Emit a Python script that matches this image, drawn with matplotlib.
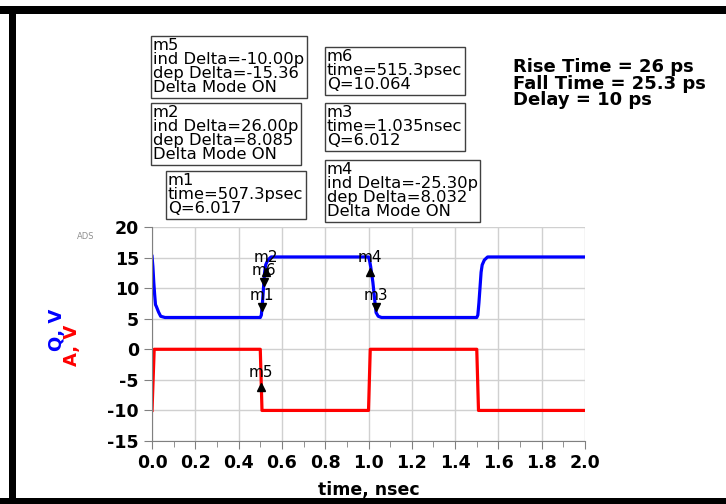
"""ADS transient plot: Q and A vs time with markers"""

from matplotlib import pyplot as plt
from matplotlib.patches import Rectangle
from matplotlib.ticker import MultipleLocator, FormatStrFormatter

plt.rcParams['axes.unicode_minus'] = False

# blue trace Q (V) vs time (nsec)
q_time = [0.0, 0.004, 0.008, 0.012, 0.016, 0.02, 0.03, 0.04, 0.06,
          0.5, 0.505, 0.51, 0.515, 0.52, 0.525, 0.535, 0.55,
          1.0, 1.005, 1.01, 1.02, 1.03, 1.035, 1.045, 1.06,
          1.5, 1.505, 1.51, 1.515, 1.52, 1.525, 1.535, 1.55, 2.0]
q_volt = [15.2, 13.5, 11.0, 9.0, 7.3, 7.0, 6.1, 5.4, 5.2,
          5.2, 5.6, 7.6, 10.1, 12.6, 13.8, 14.6, 15.1,
          15.1, 14.5, 13.5, 11.0, 7.6, 6.0, 5.4, 5.2,
          5.2, 5.6, 7.6, 10.1, 12.6, 13.8, 14.6, 15.1, 15.1]

# red trace A (V) vs time (nsec)
a_time = [0.0, 0.01, 0.5, 0.508, 1.0, 1.008, 1.5, 1.508, 2.0]
a_volt = [-10.0, 0.0, 0.0, -10.0, -10.0, 0.0, 0.0, -10.0, -10.0]

# marker name, time, value, pointing down?
mk_names = ['m1', 'm6', 'm2', 'm3', 'm4', 'm5']
mk_time = [0.507, 0.515, 0.527, 1.035, 1.007, 0.505]
mk_value = [6.0, 10.1, 13.6, 6.0, 13.6, -5.3]
mk_down = [True, True, False, True, False, False]

# marker readout boxes
box_texts = [
    "m5\nind Delta=-10.00p\ndep Delta=-15.36\nDelta Mode ON",
    "m6\ntime=515.3psec\nQ=10.064",
    "m2\nind Delta=26.00p\ndep Delta=8.085\nDelta Mode ON",
    "m3\ntime=1.035nsec\nQ=6.012",
    "m1\ntime=507.3psec\nQ=6.017",
    "m4\nind Delta=-25.30p\ndep Delta=8.032\nDelta Mode ON",
]
box_xy = [(0.2107, 0.9246), (0.4504, 0.9028), (0.2107, 0.7917),
          (0.4504, 0.7917), (0.2314, 0.6567), (0.4504, 0.6786)]

summary = "Rise Time = 26 ps\nFall Time = 25.3 ps\nDelay = 10 ps"

fig = plt.figure(figsize=(7.26, 5.04), dpi=100)
ax = fig.add_axes([0.2094, 0.125, 0.5964, 0.4246])

ax.plot(q_time, q_volt, color='#0000ff', lw=2.3, solid_joinstyle='round')
ax.plot(a_time, a_volt, color='#ff0000', lw=2.3)

for name, t, v, down in zip(mk_names, mk_time, mk_value, mk_down):
    if down:
        ax.plot(t, v + 0.9, marker='v', color='black', ms=6)
        ax.text(t, v + 1.6, name, ha='center', va='bottom', fontsize=11)
    else:
        ax.plot(t, v - 0.9, marker='^', color='black', ms=6)
        ax.text(t, v + 0.2, name, ha='center', va='bottom', fontsize=11)

ax.set_xlim(0, 2.0)
ax.set_ylim(-15, 20)
ax.xaxis.set_major_locator(MultipleLocator(0.2))
ax.xaxis.set_minor_locator(MultipleLocator(0.1))
ax.xaxis.set_major_formatter(FormatStrFormatter('%.1f'))
ax.yaxis.set_major_locator(MultipleLocator(5))
ax.grid(True, which='major', color='#d0d0d0', lw=1)
ax.set_axisbelow(True)
for side in ['top', 'right']:
    ax.spines[side].set_visible(False)
for side in ['left', 'bottom']:
    ax.spines[side].set_color('#808080')
ax.tick_params(which='both', direction='out', color='#808080')
ax.tick_params(which='major', length=6, labelsize=12.5)
ax.tick_params(which='minor', length=4)
for lab in ax.get_xticklabels() + ax.get_yticklabels():
    lab.set_fontweight('bold')
ax.set_xlabel('time, nsec', fontweight='bold', fontsize=12.5, labelpad=6)

fig.text(0.0785, 0.345, 'Q, V', color='#0000ff', rotation=90,
         fontweight='bold', fontsize=13, ha='center', va='center')
fig.text(0.099, 0.315, 'A, V', color='#ff0000', rotation=90,
         fontweight='bold', fontsize=13, ha='center', va='center')
fig.text(0.106, 0.53, 'ADS', color='#909090', fontsize=6, ha='left', va='center')

for txt, (x, y) in zip(box_texts, box_xy):
    fig.text(x, y, txt, ha='left', va='top', fontsize=11.8, linespacing=0.92,
             bbox=dict(boxstyle='square,pad=0.15', fc='white', ec='#404040', lw=1))

fig.text(0.7066, 0.885, summary, ha='left', va='top', fontweight='bold',
         fontsize=13, linespacing=0.9)

# black frame around the window
fig.add_artist(Rectangle((0.0, 0.972), 1.0, 0.016, transform=fig.transFigure,
                         color='black', lw=0))
fig.add_artist(Rectangle((0.0, 0.0), 1.0, 0.012, transform=fig.transFigure,
                         color='black', lw=0))
fig.add_artist(Rectangle((0.013, 0.0), 0.009, 0.988, transform=fig.transFigure,
                         color='black', lw=0))

fig.savefig('out.png', dpi=100)
